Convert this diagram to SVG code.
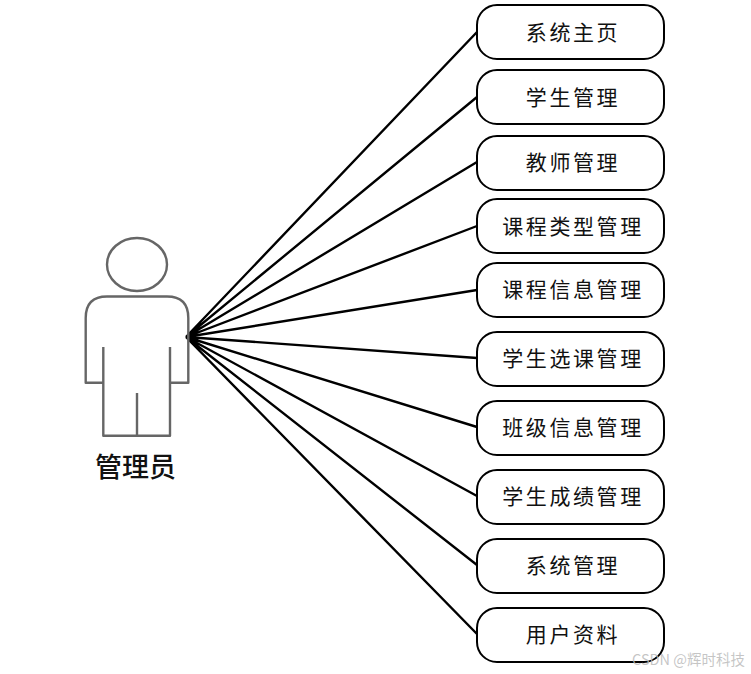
<svg xmlns="http://www.w3.org/2000/svg" width="751" height="674" viewBox="0 0 751 674">
<style>
.box{fill:#fff;stroke:#000;stroke-width:2}
.t{font-family:"Noto Sans CJK SC","Noto Sans",sans-serif;font-size:21px;font-weight:400;letter-spacing:2.6px;fill:#111;text-anchor:middle}
.a{fill:none;stroke:#666;stroke-width:2.4;stroke-linejoin:round}
.c{stroke:#000;stroke-width:2.4;fill:none}
</style>
<rect width="751" height="674" fill="#fff"/>
<g id="connectors">
<path class="c" d="M186 337L477 32M186 337L477 97M186 337L477 162M186 337L477 226M186 337L477 290M186 337L477 358M186 337L477 427M186 337L477 496M186 337L477 565M186 337L477 634"/>
</g>
<g id="actor">
<ellipse class="a" cx="137" cy="264.5" rx="30" ry="26.5"/>
<path class="a" d="M103.3 347V435.7H170V347M103.3 382.7H85.7V318Q85.7 296.5 107 296.5H167Q188.3 296.5 188.3 318V382.7H170M137 393V435.7"/>
<text x="135.5" y="477" font-family="'Noto Sans CJK SC',sans-serif" font-size="27" font-weight="500" fill="#111" text-anchor="middle">管理员</text>
</g>
<g id="n1"><rect class="box" x="477" y="5" width="187" height="54" rx="20"/><text class="t" x="573" y="40">系统主页</text></g>
<g id="n2"><rect class="box" x="477" y="70" width="187" height="54" rx="20"/><text class="t" x="573" y="105">学生管理</text></g>
<g id="n3"><rect class="box" x="477" y="136" width="187" height="54" rx="20"/><text class="t" x="573" y="170">教师管理</text></g>
<g id="n4"><rect class="box" x="477" y="199" width="187" height="54" rx="20"/><text class="t" x="573" y="234">课程类型管理</text></g>
<g id="n5"><rect class="box" x="477" y="263" width="187" height="54" rx="20"/><text class="t" x="573" y="297">课程信息管理</text></g>
<g id="n6"><rect class="box" x="477" y="332" width="187" height="54" rx="20"/><text class="t" x="573" y="366">学生选课管理</text></g>
<g id="n7"><rect class="box" x="477" y="401" width="187" height="54" rx="20"/><text class="t" x="573" y="435">班级信息管理</text></g>
<g id="n8"><rect class="box" x="477" y="470" width="187" height="54" rx="20"/><text class="t" x="573" y="504">学生成绩管理</text></g>
<g id="n9"><rect class="box" x="477" y="539" width="187" height="54" rx="20"/><text class="t" x="573" y="573">系统管理</text></g>
<g id="n10"><rect class="box" x="477" y="608" width="187" height="54" rx="20"/><text class="t" x="573" y="642">用户资料</text></g>
<text x="745" y="665" font-family="'Noto Sans CJK SC',sans-serif" font-size="14.5" fill="#bbb" fill-opacity=".85" text-anchor="end">CSDN @辉时科技</text>
</svg>
